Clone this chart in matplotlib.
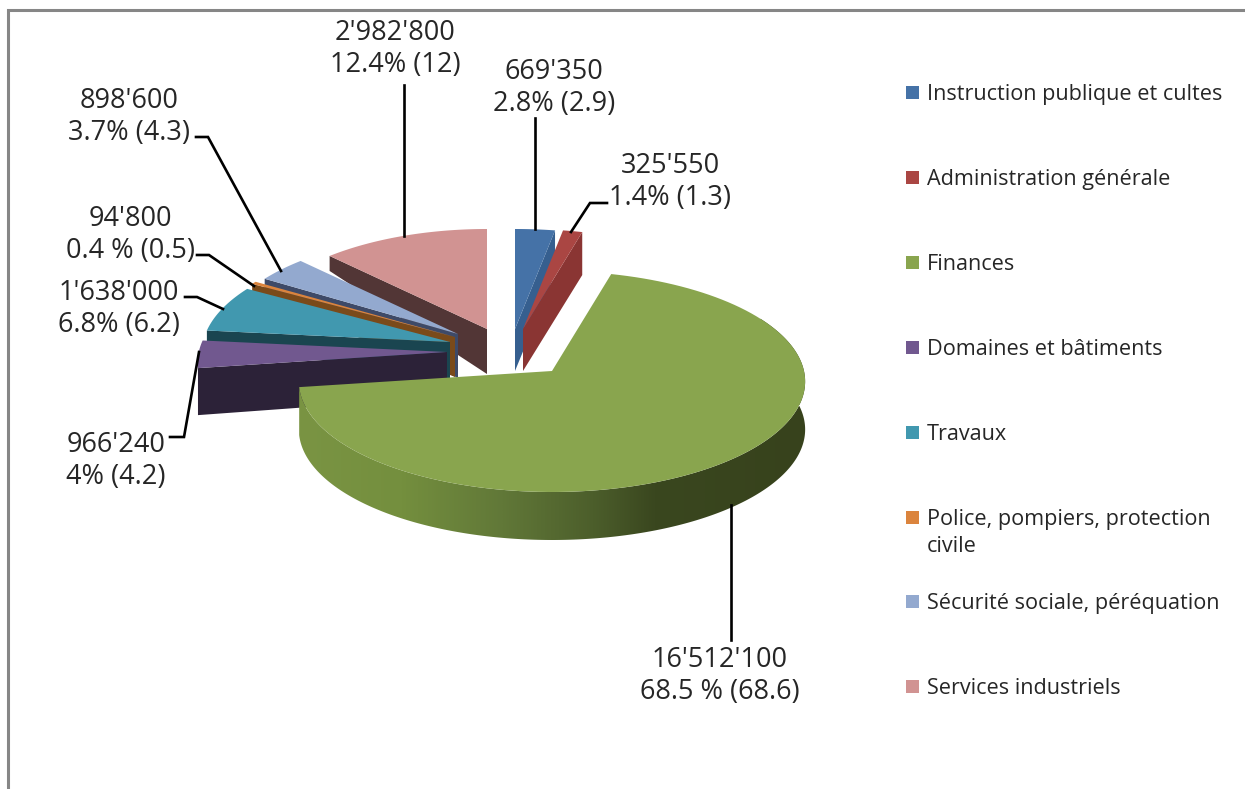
import numpy as np
import matplotlib
matplotlib.use("Agg")
import matplotlib.pyplot as plt
from matplotlib.colors import LinearSegmentedColormap
from matplotlib.patches import Polygon, Rectangle

plt.rcParams['font.family'] = ['Open Sans', 'DejaVu Sans']

# Budget by department, in slice order clockwise from twelve o'clock
categories = ["Instruction publique et cultes", "Administration générale", "Finances",
              "Domaines et bâtiments", "Travaux", "Police, pompiers, protection\ncivile",
              "Sécurité sociale, péréquation", "Services industriels"]
amounts = [669350, 325550, 16512100, 966240, 1638000, 94800, 898600, 2982800]
shares = ["2.8% (2.9)", "1.4% (1.3)", "68.5 % (68.6)", "4% (4.2)",
          "6.8% (6.2)", "0.4 % (0.5)", "3.7% (4.3)", "12.4% (12)"]

top_colors = ["#4572a7", "#aa4643", "#89a54e", "#71588f", "#4198af", "#db843d", "#93a9cf", "#d19392"]
wall_colors = ["#365f8f", "#8a3533", "#6d8a3c", "#2c2238", "#1a4550", "#7a4a1a", "#3e4a68", "#523636"]

# Layout in figure pixels
apex = [(515, 329), (523, 329), (552, 371), (447, 352), (450, 342), (455, 337), (458, 334), (487, 329)]
reach = [1.0, 1.0, 1.0, 0.985, 0.98, 0.98, 0.95, 0.95]
rim_depth = [43, 43, 48, 47, 12, 10, 10, 15]
apex_depth = [42, 42, 48, 45, 38, 40, 44, 45]
label_xy = [(554, 88), (670, 182), (720, 676), (116, 461), (119, 309), (130, 235), (129, 117), (395, 49)]
leaders = [[(535, 118), (535, 229)],
           [(607, 203), (590, 203), (571, 232)],
           [(731, 505), (731, 640)],
           [(170, 437), (184, 437), (199, 352)],
           [(185, 297), (197, 297), (223, 309)],
           [(197, 255), (209, 255), (254, 286)],
           [(196, 137), (208, 137), (281, 271)],
           [(404, 85), (404, 236)]]
legend_y = [92, 177, 262, 347, 432, 517, 601, 686]

RX, RY, PERSP = 252, 109.5, 0.095

fracs = np.array(amounts) / sum(amounts)
edges = np.concatenate([[0], np.cumsum(fracs)]) * 2 * np.pi


def rim(i, t):
    """Point(s) on the tilted disc rim of slice i."""
    a = apex[i]
    w = 1 + PERSP * np.cos(t)
    return np.column_stack([a[0] + reach[i] * RX * np.sin(t) / w, a[1] - RY * np.cos(t) / w])


fig = plt.figure(figsize=(12.45, 7.89), dpi=100)
ax = fig.add_axes([0, 0, 1, 1])
ax.set_axis_off()

# Chart area border: only top and left fall inside the figure
ax.plot([8, 8, 1245], [789, 10, 10], color="#868686", lw=2.2, solid_joinstyle="miter", zorder=1)


def draw_cut_wall(i, t, z):
    """Flat inner face of slice i along its edge at angle t."""
    p = rim(i, np.array([t]))[0]
    a = apex[i]
    pts = [p, a, (a[0], a[1] + apex_depth[i]), (p[0], p[1] + rim_depth[i])]
    ax.add_patch(Polygon(pts, closed=True, fc=wall_colors[i], ec="none", zorder=z))


def draw_top(i, z):
    ts = np.linspace(edges[i], edges[i + 1], 120)
    pts = np.vstack([[apex[i]], rim(i, ts)])
    ax.add_patch(Polygon(pts, closed=True, fc=top_colors[i], ec="none", zorder=z))


# Back slices first, so nearer ones cover them
z = 2
for i in [7, 6, 5, 4, 3]:
    draw_cut_wall(i, edges[i], z)
    draw_top(i, z + 0.5)
    z += 1
for i in [0, 1]:
    draw_cut_wall(i, edges[i + 1], z)
    draw_top(i, z + 0.5)
    z += 1

# Finances: shaded outer wall, then the top face
ts = np.linspace(np.radians(60), edges[3], 300)
upper = rim(2, ts)
lower = upper + np.array([0, rim_depth[2]])
wall = Polygon(np.vstack([upper, lower[::-1]]), closed=True, fc="none", ec="none", zorder=z)
ax.add_patch(wall)
shade = LinearSegmentedColormap.from_list(
    "wall_shade",
    [(0.0, "#7a9443"), (0.2, "#748f3e"), (0.4, "#617838"), (0.58, "#4c5e2b"),
     (0.70, "#3a471f"), (1.0, "#37421c")])
im = ax.imshow(np.linspace(0, 1, 512)[None, :], extent=(299, 807, 560, 270), cmap=shade,
               aspect="auto", zorder=z, interpolation="bilinear")
im.set_clip_path(wall)
draw_top(2, z + 0.5)
z += 1

ax.set_xlim(0, 1245)
ax.set_ylim(789, 0)

# Leader lines and value labels
for pts in leaders:
    xs, ys = zip(*pts)
    ax.plot(xs, ys, color="black", lw=1.9, solid_joinstyle="miter", zorder=z + 1)
for amount, share, (x, y) in zip(amounts, shares, label_xy):
    ax.text(x, y, f"{amount:,}".replace(",", "'") + "\n" + share, ha="center", va="center",
            multialignment="center", fontsize=19.5, color="#262626", linespacing=1.2, zorder=z + 2)

# Legend
for name, color, y in zip(categories, top_colors, legend_y):
    ax.add_patch(Rectangle((906, y - 6.5), 13, 13, fc=color, ec="none", zorder=z))
    ax.text(927, y + 2, name.split("\n")[0], ha="left", va="center", fontsize=15.6,
            color="#262626", zorder=z)
    if "\n" in name:
        ax.text(927, y + 29, name.split("\n")[1], ha="left", va="center", fontsize=15.6,
                color="#262626", zorder=z)

fig.savefig("out.png", dpi=100, facecolor="white")
